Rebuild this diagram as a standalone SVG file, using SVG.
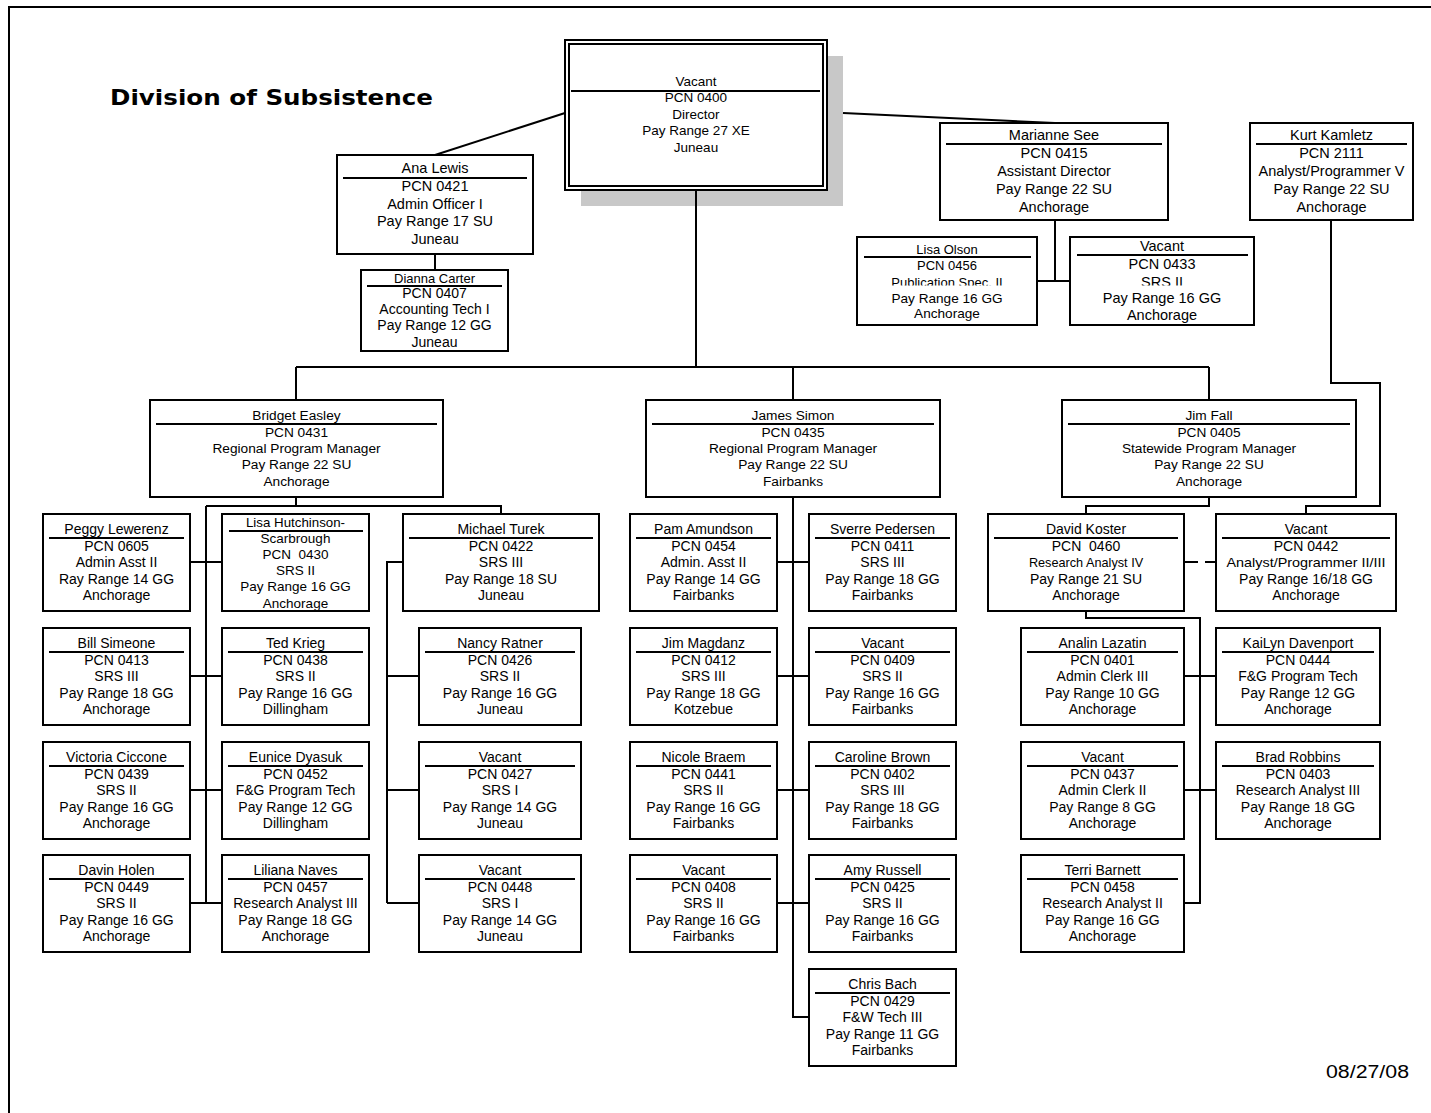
<svg xmlns="http://www.w3.org/2000/svg" width="1431" height="1113" viewBox="0 0 1431 1113">
<style>
.b{fill:#fff;stroke:#000;stroke-width:2}
.s{stroke:#000;stroke-width:2}
.c{fill:none;stroke:#000;stroke-width:2}
text{font-family:"Liberation Sans",Arial,sans-serif;font-size:14px;text-anchor:middle;fill:#000}
.m text{font-size:13.7px}
.big text{font-size:14.5px}
.pre{white-space:pre}
</style>
<defs>
<clipPath id="clipOl"><rect x="850" y="270" width="420" height="15.5"/></clipPath>
</defs>
<rect x="0" y="0" width="1431" height="1113" fill="#fff"/>
<path class="c" d="M9,1113 V7 H1431"/>
<text x="110" y="105" textLength="323" lengthAdjust="spacingAndGlyphs" style="font-family:'DejaVu Sans','Liberation Sans',sans-serif;font-weight:bold;font-size:22px;text-anchor:start">Division of Subsistence</text>
<text x="1409" y="1078" textLength="83" lengthAdjust="spacingAndGlyphs" style="font-size:18px;text-anchor:end">08/27/08</text>

<rect id="director-shadow" x="581" y="56" width="262" height="150" fill="#c8c8c8"/>

<g id="connectors">
<path class="c" d="M565,113 L435,155"/>
<path class="c" d="M843,113 L1055,123"/>
<path class="c" d="M696,190 V367 M296,367 H1209 M296,367 V400 M793,367 V400 M1209,367 V400"/>
<path class="c" d="M435,254 V270"/>
<path class="c" d="M1055,220 V281 M1037,281 H1070"/>
<path class="c" d="M1331,220 V383 H1380 V506 H1306 V514"/>
<path class="c" d="M296,497 V506 M206,506 H501 V514 M206,506 V903 M190,562 H222 M190,676 H222 M190,790 H222 M190,903 H222"/>
<path class="c" d="M403,562 H387 V903 M387,676 H419 M387,790 H419 M387,903 H419"/>
<path class="c" d="M793,497 V1017 H809 M777,562 H809 M777,676 H809 M777,790 H809 M777,903 H809"/>
<path class="c" d="M1209,497 V506 H1086 V514"/>
<path class="c" d="M1184,562 H1216" stroke-dasharray="14 7"/>
<path class="c" d="M1086,611 V618 H1200 V903 H1184 M1184,676 H1216 M1184,790 H1216"/>
</g>

<g id="n-director">
<rect class="b" x="565" y="40" width="262" height="150"/>
<rect class="b" x="569" y="44" width="254" height="142"/>
<line class="s" x1="571" y1="91" x2="820" y2="91"/>
<text x="696" y="86" style="font-size:13.5px">Vacant</text>
<text x="696" y="102" style="font-size:13.5px">PCN 0400</text>
<text x="696" y="119" style="font-size:13.5px">Director</text>
<text x="696" y="135" style="font-size:13.5px">Pay Range 27 XE</text>
<text x="696" y="152" style="font-size:13.5px">Juneau</text>
</g>

<g id="n-ana" class="big">
<rect class="b" x="337" y="155" width="196" height="99"/>
<line class="s" x1="343" y1="178" x2="527" y2="178"/>
<text x="435" y="173">Ana Lewis</text>
<text x="435" y="191">PCN 0421</text>
<text x="435" y="208.5">Admin Officer I</text>
<text x="435" y="226">Pay Range 17 SU</text>
<text x="435" y="244">Juneau</text>
</g>

<g id="n-dianna">
<rect class="b" x="361" y="270" width="147" height="81"/>
<line class="s" x1="367" y1="286" x2="502" y2="286"/>
<text x="434.5" y="283" style="font-size:13px">Dianna Carter</text>
<text x="434.5" y="298">PCN 0407</text>
<text x="434.5" y="314">Accounting Tech I</text>
<text x="434.5" y="330">Pay Range 12 GG</text>
<text x="434.5" y="347">Juneau</text>
</g>

<g id="n-marianne" class="big">
<rect class="b" x="940" y="123" width="228" height="97"/>
<line class="s" x1="946" y1="144" x2="1162" y2="144"/>
<text x="1054" y="140">Marianne See</text>
<text x="1054" y="158">PCN 0415</text>
<text x="1054" y="176">Assistant Director</text>
<text x="1054" y="193.5">Pay Range 22 SU</text>
<text x="1054" y="211.5">Anchorage</text>
</g>

<g id="n-kurt" class="big">
<rect class="b" x="1250" y="123" width="163" height="97"/>
<line class="s" x1="1256" y1="144" x2="1407" y2="144"/>
<text x="1331.5" y="140">Kurt Kamletz</text>
<text x="1331.5" y="158">PCN 2111</text>
<text x="1331.5" y="176">Analyst/Programmer V</text>
<text x="1331.5" y="193.5">Pay Range 22 SU</text>
<text x="1331.5" y="211.5">Anchorage</text>
</g>

<g id="n-olson">
<rect class="b" x="857" y="237" width="180" height="88"/>
<line class="s" x1="864" y1="257" x2="1031" y2="257"/>
<text x="947" y="254" style="font-size:13px">Lisa Olson</text>
<text x="947" y="269.5" style="font-size:13px">PCN 0456</text>
<text x="947" y="287" style="font-size:13px" clip-path="url(#clipOl)">Publication Spec. II</text>
<text x="947" y="302.5" style="font-size:13.6px">Pay Range 16 GG</text>
<text x="947" y="318" style="font-size:13.6px">Anchorage</text>
</g>

<g id="n-vacant0433" class="big">
<rect class="b" x="1070" y="237" width="184" height="88"/>
<line class="s" x1="1077" y1="255" x2="1248" y2="255"/>
<text x="1162" y="251">Vacant</text>
<text x="1162" y="269">PCN 0433</text>
<text x="1162" y="287" clip-path="url(#clipOl)">SRS II</text>
<text x="1162" y="303">Pay Range 16 GG</text>
<text x="1162" y="320">Anchorage</text>
</g>

<g id="n-bridget" class="m">
<rect class="b" x="150" y="400" width="293" height="97"/>
<line class="s" x1="156" y1="424" x2="437" y2="424"/>
<text x="296.5" y="420">Bridget Easley</text>
<text x="296.5" y="437">PCN 0431</text>
<text x="296.5" y="453">Regional Program Manager</text>
<text x="296.5" y="469">Pay Range 22 SU</text>
<text x="296.5" y="486">Anchorage</text>
</g>

<g id="n-james" class="m">
<rect class="b" x="646" y="400" width="294" height="97"/>
<line class="s" x1="652" y1="424" x2="934" y2="424"/>
<text x="793" y="420">James Simon</text>
<text x="793" y="437">PCN 0435</text>
<text x="793" y="453">Regional Program Manager</text>
<text x="793" y="469">Pay Range 22 SU</text>
<text x="793" y="486">Fairbanks</text>
</g>

<g id="n-jimfall" class="m">
<rect class="b" x="1062" y="400" width="294" height="97"/>
<line class="s" x1="1068" y1="424" x2="1350" y2="424"/>
<text x="1209" y="420">Jim Fall</text>
<text x="1209" y="437">PCN 0405</text>
<text x="1209" y="453">Statewide Program Manager</text>
<text x="1209" y="469">Pay Range 22 SU</text>
<text x="1209" y="486">Anchorage</text>
</g>

<g id="n-peggy">
<rect class="b" x="43" y="514" width="147" height="97"/>
<line class="s" x1="49" y1="538" x2="184" y2="538"/>
<text x="116.5" y="534">Peggy Lewerenz</text>
<text x="116.5" y="550.5">PCN 0605</text>
<text x="116.5" y="567">Admin Asst II</text>
<text x="116.5" y="583.5">Ray Range 14 GG</text>
<text x="116.5" y="600">Anchorage</text>
</g>

<g id="n-lisah">
<rect class="b" x="222" y="514" width="147" height="97"/>
<line class="s" x1="229" y1="531" x2="363" y2="531"/>
<text x="295.5" y="527" style="font-size:13.3px">Lisa Hutchinson-</text>
<text x="295.5" y="543" style="font-size:13.5px">Scarbrough</text>
<text x="295.5" y="559" style="font-size:13.5px" xml:space="preserve" class="pre">PCN  0430</text>
<text x="295.5" y="575" style="font-size:13.5px">SRS II</text>
<text x="295.5" y="591" style="font-size:13.5px">Pay Range 16 GG</text>
<text x="295.5" y="608" style="font-size:13.5px">Anchorage</text>
</g>

<g id="n-turek">
<rect class="b" x="403" y="514" width="196" height="97"/>
<line class="s" x1="409" y1="538" x2="593" y2="538"/>
<text x="501" y="534">Michael Turek</text>
<text x="501" y="550.5">PCN 0422</text>
<text x="501" y="567">SRS III</text>
<text x="501" y="583.5">Pay Range 18 SU</text>
<text x="501" y="600">Juneau</text>
</g>

<g id="n-simeone">
<rect class="b" x="43" y="628" width="147" height="97"/>
<line class="s" x1="49" y1="652" x2="184" y2="652"/>
<text x="116.5" y="648">Bill Simeone</text>
<text x="116.5" y="664.5">PCN 0413</text>
<text x="116.5" y="681">SRS III</text>
<text x="116.5" y="697.5">Pay Range 18 GG</text>
<text x="116.5" y="714">Anchorage</text>
</g>

<g id="n-krieg">
<rect class="b" x="222" y="628" width="147" height="97"/>
<line class="s" x1="228" y1="652" x2="363" y2="652"/>
<text x="295.5" y="648">Ted Krieg</text>
<text x="295.5" y="664.5">PCN 0438</text>
<text x="295.5" y="681">SRS II</text>
<text x="295.5" y="697.5">Pay Range 16 GG</text>
<text x="295.5" y="714">Dillingham</text>
</g>

<g id="n-ratner">
<rect class="b" x="419" y="628" width="162" height="97"/>
<line class="s" x1="425" y1="652" x2="575" y2="652"/>
<text x="500" y="648">Nancy Ratner</text>
<text x="500" y="664.5">PCN 0426</text>
<text x="500" y="681">SRS II</text>
<text x="500" y="697.5">Pay Range 16 GG</text>
<text x="500" y="714">Juneau</text>
</g>

<g id="n-ciccone">
<rect class="b" x="43" y="742" width="147" height="97"/>
<line class="s" x1="49" y1="766" x2="184" y2="766"/>
<text x="116.5" y="762">Victoria Ciccone</text>
<text x="116.5" y="778.5">PCN 0439</text>
<text x="116.5" y="795">SRS II</text>
<text x="116.5" y="811.5">Pay Range 16 GG</text>
<text x="116.5" y="828">Anchorage</text>
</g>

<g id="n-dyasuk">
<rect class="b" x="222" y="742" width="147" height="97"/>
<line class="s" x1="228" y1="766" x2="363" y2="766"/>
<text x="295.5" y="762">Eunice Dyasuk</text>
<text x="295.5" y="778.5">PCN 0452</text>
<text x="295.5" y="795">F&amp;G Program Tech</text>
<text x="295.5" y="811.5">Pay Range 12 GG</text>
<text x="295.5" y="828">Dillingham</text>
</g>

<g id="n-vacant0427">
<rect class="b" x="419" y="742" width="162" height="97"/>
<line class="s" x1="425" y1="766" x2="575" y2="766"/>
<text x="500" y="762">Vacant</text>
<text x="500" y="778.5">PCN 0427</text>
<text x="500" y="795">SRS I</text>
<text x="500" y="811.5">Pay Range 14 GG</text>
<text x="500" y="828">Juneau</text>
</g>

<g id="n-holen">
<rect class="b" x="43" y="855" width="147" height="97"/>
<line class="s" x1="49" y1="879" x2="184" y2="879"/>
<text x="116.5" y="875">Davin Holen</text>
<text x="116.5" y="891.5">PCN 0449</text>
<text x="116.5" y="908">SRS II</text>
<text x="116.5" y="924.5">Pay Range 16 GG</text>
<text x="116.5" y="941">Anchorage</text>
</g>

<g id="n-naves">
<rect class="b" x="222" y="855" width="147" height="97"/>
<line class="s" x1="228" y1="879" x2="363" y2="879"/>
<text x="295.5" y="875">Liliana Naves</text>
<text x="295.5" y="891.5">PCN 0457</text>
<text x="295.5" y="908">Research Analyst III</text>
<text x="295.5" y="924.5">Pay Range 18 GG</text>
<text x="295.5" y="941">Anchorage</text>
</g>

<g id="n-vacant0448">
<rect class="b" x="419" y="855" width="162" height="97"/>
<line class="s" x1="425" y1="879" x2="575" y2="879"/>
<text x="500" y="875">Vacant</text>
<text x="500" y="891.5">PCN 0448</text>
<text x="500" y="908">SRS I</text>
<text x="500" y="924.5">Pay Range 14 GG</text>
<text x="500" y="941">Juneau</text>
</g>

<g id="n-amundson">
<rect class="b" x="630" y="514" width="147" height="97"/>
<line class="s" x1="636" y1="538" x2="771" y2="538"/>
<text x="703.5" y="534">Pam Amundson</text>
<text x="703.5" y="550.5">PCN 0454</text>
<text x="703.5" y="567">Admin. Asst II</text>
<text x="703.5" y="583.5">Pay Range 14 GG</text>
<text x="703.5" y="600">Fairbanks</text>
</g>

<g id="n-pedersen">
<rect class="b" x="809" y="514" width="147" height="97"/>
<line class="s" x1="815" y1="538" x2="950" y2="538"/>
<text x="882.5" y="534">Sverre Pedersen</text>
<text x="882.5" y="550.5">PCN 0411</text>
<text x="882.5" y="567">SRS III</text>
<text x="882.5" y="583.5">Pay Range 18 GG</text>
<text x="882.5" y="600">Fairbanks</text>
</g>

<g id="n-magdanz">
<rect class="b" x="630" y="628" width="147" height="97"/>
<line class="s" x1="636" y1="652" x2="771" y2="652"/>
<text x="703.5" y="648">Jim Magdanz</text>
<text x="703.5" y="664.5">PCN 0412</text>
<text x="703.5" y="681">SRS III</text>
<text x="703.5" y="697.5">Pay Range 18 GG</text>
<text x="703.5" y="714">Kotzebue</text>
</g>

<g id="n-vacant0409">
<rect class="b" x="809" y="628" width="147" height="97"/>
<line class="s" x1="815" y1="652" x2="950" y2="652"/>
<text x="882.5" y="648">Vacant</text>
<text x="882.5" y="664.5">PCN 0409</text>
<text x="882.5" y="681">SRS II</text>
<text x="882.5" y="697.5">Pay Range 16 GG</text>
<text x="882.5" y="714">Fairbanks</text>
</g>

<g id="n-braem">
<rect class="b" x="630" y="742" width="147" height="97"/>
<line class="s" x1="636" y1="766" x2="771" y2="766"/>
<text x="703.5" y="762">Nicole Braem</text>
<text x="703.5" y="778.5">PCN 0441</text>
<text x="703.5" y="795">SRS II</text>
<text x="703.5" y="811.5">Pay Range 16 GG</text>
<text x="703.5" y="828">Fairbanks</text>
</g>

<g id="n-brown">
<rect class="b" x="809" y="742" width="147" height="97"/>
<line class="s" x1="815" y1="766" x2="950" y2="766"/>
<text x="882.5" y="762">Caroline Brown</text>
<text x="882.5" y="778.5">PCN 0402</text>
<text x="882.5" y="795">SRS III</text>
<text x="882.5" y="811.5">Pay Range 18 GG</text>
<text x="882.5" y="828">Fairbanks</text>
</g>

<g id="n-vacant0408">
<rect class="b" x="630" y="855" width="147" height="97"/>
<line class="s" x1="636" y1="879" x2="771" y2="879"/>
<text x="703.5" y="875">Vacant</text>
<text x="703.5" y="891.5">PCN 0408</text>
<text x="703.5" y="908">SRS II</text>
<text x="703.5" y="924.5">Pay Range 16 GG</text>
<text x="703.5" y="941">Fairbanks</text>
</g>

<g id="n-russell">
<rect class="b" x="809" y="855" width="147" height="97"/>
<line class="s" x1="815" y1="879" x2="950" y2="879"/>
<text x="882.5" y="875">Amy Russell</text>
<text x="882.5" y="891.5">PCN 0425</text>
<text x="882.5" y="908">SRS II</text>
<text x="882.5" y="924.5">Pay Range 16 GG</text>
<text x="882.5" y="941">Fairbanks</text>
</g>

<g id="n-bach">
<rect class="b" x="809" y="969" width="147" height="97"/>
<line class="s" x1="815" y1="993" x2="950" y2="993"/>
<text x="882.5" y="989">Chris Bach</text>
<text x="882.5" y="1005.5">PCN 0429</text>
<text x="882.5" y="1022">F&amp;W Tech III</text>
<text x="882.5" y="1038.5">Pay Range 11 GG</text>
<text x="882.5" y="1055">Fairbanks</text>
</g>

<g id="n-koster">
<rect class="b" x="988" y="514" width="196" height="97"/>
<line class="s" x1="994" y1="538" x2="1178" y2="538"/>
<text x="1086" y="534">David Koster</text>
<text x="1086" y="550.5" xml:space="preserve" class="pre">PCN  0460</text>
<text x="1086" y="567" style="font-size:12.7px">Research Analyst IV</text>
<text x="1086" y="583.5">Pay Range 21 SU</text>
<text x="1086" y="600">Anchorage</text>
</g>

<g id="n-vacant0442">
<rect class="b" x="1216" y="514" width="180" height="97"/>
<line class="s" x1="1222" y1="538" x2="1390" y2="538"/>
<text x="1306" y="534">Vacant</text>
<text x="1306" y="550.5">PCN 0442</text>
<text x="1306" y="567" style="font-size:13px" textLength="159" lengthAdjust="spacingAndGlyphs">Analyst/Programmer II/III</text>
<text x="1306" y="583.5">Pay Range 16/18 GG</text>
<text x="1306" y="600">Anchorage</text>
</g>

<g id="n-lazatin">
<rect class="b" x="1021" y="628" width="163" height="97"/>
<line class="s" x1="1027" y1="652" x2="1178" y2="652"/>
<text x="1102.5" y="648">Analin Lazatin</text>
<text x="1102.5" y="664.5">PCN 0401</text>
<text x="1102.5" y="681">Admin Clerk III</text>
<text x="1102.5" y="697.5">Pay Range 10 GG</text>
<text x="1102.5" y="714">Anchorage</text>
</g>

<g id="n-davenport">
<rect class="b" x="1216" y="628" width="164" height="97"/>
<line class="s" x1="1222" y1="652" x2="1374" y2="652"/>
<text x="1298" y="648">KaiLyn Davenport</text>
<text x="1298" y="664.5">PCN 0444</text>
<text x="1298" y="681">F&amp;G Program Tech</text>
<text x="1298" y="697.5">Pay Range 12 GG</text>
<text x="1298" y="714">Anchorage</text>
</g>

<g id="n-vacant0437">
<rect class="b" x="1021" y="742" width="163" height="97"/>
<line class="s" x1="1027" y1="766" x2="1178" y2="766"/>
<text x="1102.5" y="762">Vacant</text>
<text x="1102.5" y="778.5">PCN 0437</text>
<text x="1102.5" y="795">Admin Clerk II</text>
<text x="1102.5" y="811.5">Pay Range 8 GG</text>
<text x="1102.5" y="828">Anchorage</text>
</g>

<g id="n-robbins">
<rect class="b" x="1216" y="742" width="164" height="97"/>
<line class="s" x1="1222" y1="766" x2="1374" y2="766"/>
<text x="1298" y="762">Brad Robbins</text>
<text x="1298" y="778.5">PCN 0403</text>
<text x="1298" y="795">Research Analyst III</text>
<text x="1298" y="811.5">Pay Range 18 GG</text>
<text x="1298" y="828">Anchorage</text>
</g>

<g id="n-barnett">
<rect class="b" x="1021" y="855" width="163" height="97"/>
<line class="s" x1="1027" y1="879" x2="1178" y2="879"/>
<text x="1102.5" y="875">Terri Barnett</text>
<text x="1102.5" y="891.5">PCN 0458</text>
<text x="1102.5" y="908">Research Analyst II</text>
<text x="1102.5" y="924.5">Pay Range 16 GG</text>
<text x="1102.5" y="941">Anchorage</text>
</g>
</svg>
